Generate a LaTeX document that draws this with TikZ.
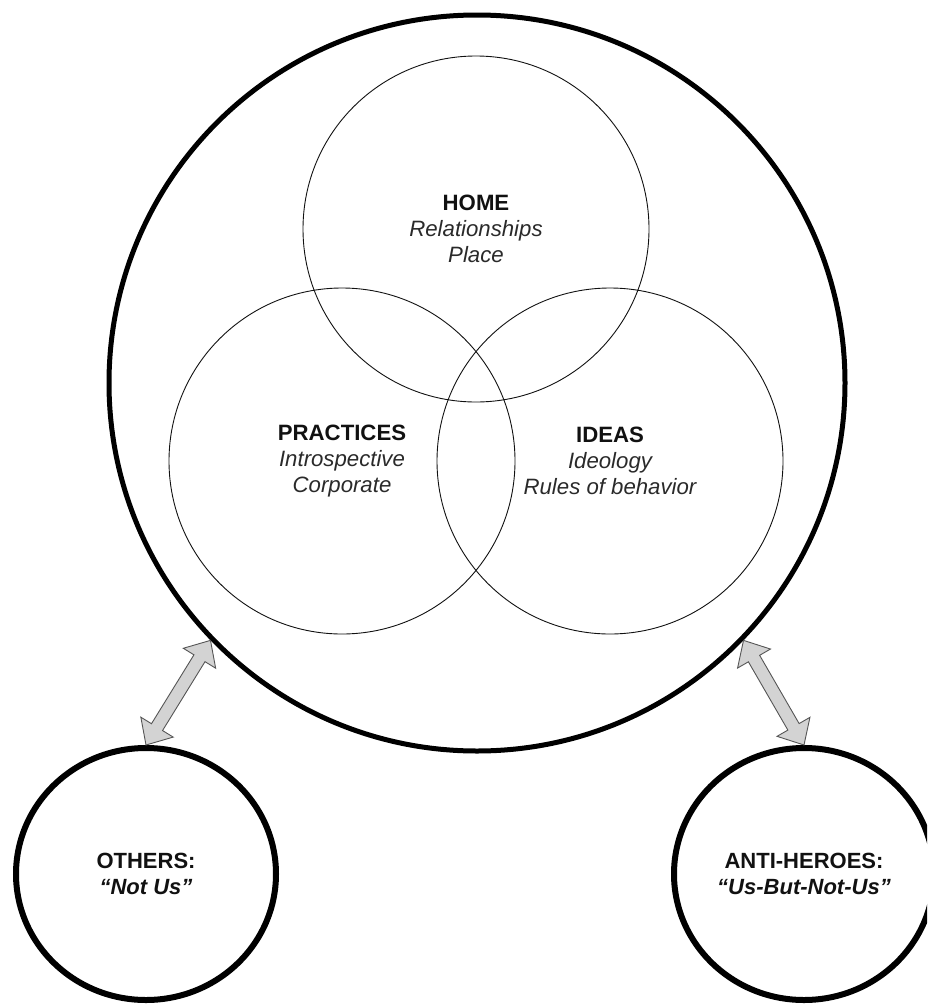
\documentclass[tikz,border=0pt]{standalone}
\usepackage{fontspec}
\setmainfont{Liberation Sans}
\usetikzlibrary{calc,shapes.geometric}
\definecolor{txtdark}{HTML}{111111}
\definecolor{txtital}{HTML}{2A2A2A}
\definecolor{arrfill}{HTML}{D3D3D3}
\definecolor{arrline}{HTML}{555555}
\newcommand\blockarrow[3]{%
  \coordinate (#3a) at ($(#1)!21pt!(#2)$);
  \coordinate (#3b) at ($(#2)!21pt!(#1)$);
  \draw[blockarr] (#1) -- ($(#3a)!19pt!90:(#2)$) -- ($(#3a)!6.5pt!90:(#2)$)
    -- ($(#3b)!6.5pt!-90:(#1)$) -- ($(#3b)!19pt!-90:(#1)$) -- (#2)
    -- ($(#3b)!19pt!90:(#1)$) -- ($(#3b)!6.5pt!90:(#1)$)
    -- ($(#3a)!6.5pt!-90:(#2)$) -- ($(#3a)!19pt!-90:(#2)$) -- cycle;
}
\begin{document}
\begin{tikzpicture}[x=1pt,y=-1pt,
  bigc/.style={circle,draw=black,line width=5pt,minimum size=736pt,inner sep=0pt},
  venn/.style={circle,draw=txtdark,line width=0.9pt,minimum size=346pt,inner sep=0pt,
    align=center,font=\fontsize{22.2}{26}\selectfont,text=txtital},
  smallc/.style={ellipse,draw=black,line width=6pt,minimum width=260pt,minimum height=252pt,
    inner sep=0pt,align=center,font=\fontsize{22}{26}\selectfont,text=txtdark},
  blockarr/.style={fill=arrfill,draw=arrline,line width=0.9pt,line join=miter}]
\useasboundingbox (0,0) rectangle (927,1004);
\clip (0,0) rectangle (927,1004);
\node[bigc] (big) at (477,383) {};
\node[venn] (home) at (476,229) {{\bfseries\color{txtdark}HOME}\\\itshape Relationships\\\itshape Place};
\node[venn] (prac) at (342,461) {{\bfseries\color{txtdark}PRACTICES}\\\itshape Introspective\\\itshape Corporate};
\node[venn] (ideas) at (610,461) {{\bfseries\color{txtdark}IDEAS}\\\itshape Ideology\\\itshape Rules of behavior};
\node[smallc] (others) at (146,874) {\bfseries OTHERS:\\\bfseries\itshape “Not Us”};
\node[smallc] (anti) at (804,874) {\bfseries ANTI-HEROES:\\\bfseries\itshape “Us-But-Not-Us”};
\blockarrow{others.north}{big.224}{la}
\blockarrow{anti.north}{big.316}{ra}
\end{tikzpicture}
\end{document}
